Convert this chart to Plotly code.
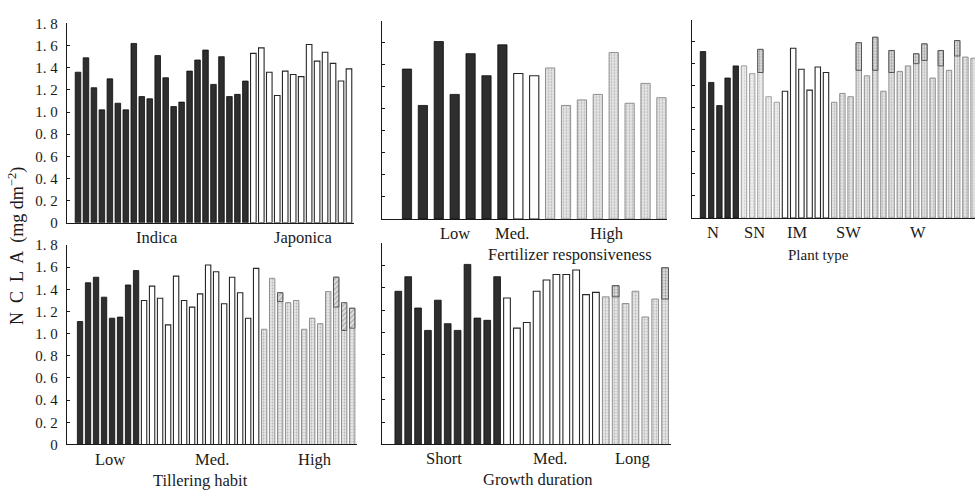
import plotly.graph_objects as go

# ---------------------------------------------------------------
# NCLA (mg dm^-2) of rice cultivars, arranged under five classifications
# ---------------------------------------------------------------
subsp_ncla = [1.36, 1.49, 1.22, 1.02, 1.30, 1.08, 1.02, 1.62, 1.14, 1.12, 1.51,
              1.31, 1.05, 1.09, 1.37, 1.47, 1.56, 1.25, 1.50, 1.14, 1.16, 1.28,
              1.53, 1.58, 1.36, 1.15, 1.37, 1.34, 1.32, 1.61, 1.46, 1.54, 1.44,
              1.28, 1.39]
subsp_class = ["Indica"] * 22 + ["Japonica"] * 13

fert_ncla = [1.36, 1.03, 1.61, 1.13, 1.50, 1.30, 1.58,
             1.32, 1.30,
             1.37, 1.03, 1.08, 1.13, 1.51, 1.05, 1.23, 1.10]
fert_class = ["Low"] * 7 + ["Med."] * 2 + ["High"] * 8

type_ncla = [1.51, 1.23, 1.02, 1.27, 1.38,
             1.38, 1.31, 1.53, 1.10, 1.05,
             1.15, 1.54, 1.35, 1.16, 1.37, 1.32,
             1.05, 1.13, 1.10, 1.59, 1.29,
             1.64, 1.15, 1.52, 1.33, 1.38, 1.49, 1.58, 1.27, 1.52, 1.34, 1.61,
             1.46, 1.45]
type_class = ["N"] * 5 + ["SN"] * 5 + ["IM"] * 6 + ["SW"] * 5 + ["W"] * 13
# level where the stippled upper part of a bar begins (bar index -> NCLA)
type_upper = {7: 1.32, 19: 1.34, 21: 1.34, 23: 1.32, 26: 1.40, 27: 1.43,
              29: 1.38, 31: 1.47}

till_ncla = [1.11, 1.46, 1.51, 1.33, 1.14, 1.15, 1.44, 1.57,
             1.30, 1.43, 1.32, 1.08, 1.52, 1.30, 1.24, 1.36, 1.62, 1.56, 1.27,
             1.51, 1.37, 1.14, 1.59,
             1.04, 1.50, 1.37, 1.28, 1.30, 1.04, 1.14, 1.09, 1.38, 1.51, 1.03,
             1.23]
till_class = ["Low"] * 8 + ["Med."] * 15 + ["High"] * 12
till_upper = {25: 1.29, 32: 1.24, 33: 1.28, 34: 1.05}

dur_ncla = [1.37, 1.50, 1.22, 1.02, 1.29, 1.08, 1.02, 1.61, 1.13, 1.11, 1.50,
            1.31, 1.04, 1.09, 1.37, 1.47, 1.52, 1.52, 1.56, 1.34, 1.36,
            1.32, 1.42, 1.26, 1.37, 1.14, 1.30, 1.58]
dur_class = ["Short"] * 11 + ["Med."] * 10 + ["Long"] * 7
dur_upper = {22: 1.32, 27: 1.30}

y_ticks = [0, 0.2, 0.4, 0.6, 0.8, 1.0, 1.2, 1.4, 1.6, 1.8]
y_ticktext = ["0", "0. 2", "0. 4", "0. 6", "0. 8", "1. 0", "1. 2", "1. 4",
              "1. 6", "1. 8"]

# ---------------------------------------------------------------
# Styling
# ---------------------------------------------------------------
W, H = 975, 496
SERIF = "Liberation Serif, Times New Roman, serif"
INK = "#1a1a1a"

FILLS = {
    "dark": dict(color="#2e2e2e", line=dict(color="#0d0d0d", width=0.8)),
    "white": dict(color="#ffffff", line=dict(color="#262626", width=1.1)),
    "gray": dict(color="#d9d9d9", line=dict(color="#8f8f8f", width=1.0),
                 pattern=dict(shape=".", fgcolor="#8a8a8a", bgcolor="#e6e6e6",
                              size=3, solidity=0.3)),
    "lightgray": dict(color="#e3e3e3", line=dict(color="#9e9e9e", width=1.0),
                      pattern=dict(shape=".", fgcolor="#a0a0a0",
                                   bgcolor="#eeeeee", size=3, solidity=0.25)),
}
UPPER = {
    ".": dict(color="#bdbdbd", line=dict(color="#555555", width=1.0),
              pattern=dict(shape=".", fgcolor="#5a5a5a", bgcolor="#dcdcdc",
                           size=3, solidity=0.35)),
    "/": dict(color="#bdbdbd", line=dict(color="#555555", width=1.0),
              pattern=dict(shape="/", fgcolor="#5a5a5a", bgcolor="#e0e0e0",
                           size=3.5, solidity=0.3)),
}


def px_x(a, b):
    return [a / W, b / W]


def px_y(bottom, top):
    return [1 - bottom / H, 1 - top / H]


panels = [
    dict(vals=subsp_ncla, cls=subsp_class,
         style={"Indica": "dark", "Japonica": "white"},
         upper={}, upper_shape=".",
         xdom=px_x(67, 354), ydom=px_y(222, 16), xr=[-1.38, 34.63], bw=0.7,
         labels=[("Indica", 9.9), ("Japonica", 28.2)], label_y=237,
         title=None, yticklabels=True),
    dict(vals=fert_ncla, cls=fert_class,
         style={"Low": "dark", "Med.": "white", "High": "gray"},
         upper={}, upper_shape=".",
         xdom=px_x(382, 667), ydom=px_y(218, 13), xr=[-1.57, 16.35], bw=0.58,
         labels=[("Low", 3.0), ("Med.", 6.6), ("High", 12.6)], label_y=233,
         title="Fertilizer responsiveness", title_x=570, title_y=255,
         title_size=16.5, yticklabels=False),
    dict(vals=type_ncla, cls=type_class,
         style={"N": "dark", "SN": "lightgray", "IM": "white", "SW": "gray",
                "W": "gray"},
         upper=type_upper, upper_shape=".",
         xdom=px_x(692, 975), ydom=px_y(217, 12), xr=[-1.34, 33.17], bw=0.66,
         labels=[("N", 1.2), ("SN", 6.3), ("IM", 11.5), ("SW", 17.7),
                 ("W", 26.2)], label_y=232,
         title="Plant type", title_x=818, title_y=255, title_size=15,
         yticklabels=False),
    dict(vals=till_ncla, cls=till_class,
         style={"Low": "dark", "Med.": "white", "High": "gray"},
         upper=till_upper, upper_shape="/",
         xdom=px_x(67, 357), ydom=px_y(451, 245), xr=[-1.63, 34.6], bw=0.67,
         labels=[("Low", 3.75), ("Med.", 16.5), ("High", 29.4)], label_y=467,
         title="Tillering habit", title_x=200, title_y=488, title_size=16.5,
         yticklabels=True),
    dict(vals=dur_ncla, cls=dur_class,
         style={"Short": "dark", "Med.": "white", "Long": "gray"},
         upper=dur_upper, upper_shape=".",
         xdom=px_x(382, 671), ydom=px_y(451, 243), xr=[-1.65, 27.6], bw=0.68,
         labels=[("Short", 4.6), ("Med.", 15.4), ("Long", 23.7)], label_y=465,
         title="Growth duration", title_x=538, title_y=487, title_size=16.5,
         yticklabels=False),
]

fig = go.Figure()
layout = dict(
    width=W, height=H, margin=dict(l=0, r=0, t=0, b=0),
    paper_bgcolor="white", plot_bgcolor="rgba(0,0,0,0)",
    barmode="overlay", showlegend=False,
    font=dict(family=SERIF, size=15, color=INK),
)
annotations = []

for k, p in enumerate(panels, start=1):
    xa = "x" if k == 1 else f"x{k}"
    ya = "y" if k == 1 else f"y{k}"
    vals, cls = p["vals"], p["cls"]
    n = len(vals)

    # full bars, one trace per class
    for c in dict.fromkeys(cls):
        idx = [i for i in range(n) if cls[i] == c]
        fig.add_trace(go.Bar(
            x=idx, y=[vals[i] for i in idx], width=p["bw"],
            marker=FILLS[p["style"][c]], xaxis=xa, yaxis=ya,
            hovertemplate=c + ": %{y:.2f}<extra></extra>"))

    # stippled / hatched upper parts of selected bars
    if p["upper"]:
        idx = sorted(p["upper"])
        fig.add_trace(go.Bar(
            x=idx, base=[p["upper"][i] for i in idx],
            y=[vals[i] - p["upper"][i] for i in idx], width=p["bw"],
            marker=UPPER[p["upper_shape"]], xaxis=xa, yaxis=ya,
            hoverinfo="skip"))

    layout["xaxis" if k == 1 else f"xaxis{k}"] = dict(
        domain=p["xdom"], anchor=ya, range=p["xr"], showgrid=False,
        zeroline=False, showline=True, linecolor=INK, linewidth=1.3,
        ticks="", showticklabels=False, fixedrange=True)
    yaxis = dict(
        domain=p["ydom"], anchor=xa, range=[0, 1.8], showgrid=False,
        zeroline=False, showline=True, linecolor=INK, linewidth=1.3,
        ticks="inside", ticklen=3, tickwidth=1, tickcolor=INK,
        tickvals=y_ticks, showticklabels=p["yticklabels"], fixedrange=True)
    if p["yticklabels"]:
        yaxis.update(ticktext=y_ticktext, ticklabelstandoff=5,
                     tickfont=dict(family=SERIF, size=15, color=INK))
    layout["yaxis" if k == 1 else f"yaxis{k}"] = yaxis

    for text, pos in p["labels"]:
        annotations.append(dict(
            text=text, x=pos, xref=xa, y=1 - p["label_y"] / H, yref="paper",
            xanchor="center", yanchor="middle", showarrow=False,
            font=dict(family=SERIF, size=16.5, color=INK)))
    if p["title"]:
        annotations.append(dict(
            text=p["title"], x=p["title_x"] / W, xref="paper",
            y=1 - p["title_y"] / H, yref="paper", xanchor="center",
            yanchor="middle", showarrow=False,
            font=dict(family=SERIF, size=p["title_size"], color=INK)))

# shared y-axis title
annotations.append(dict(
    text="N  C  L  A  (mg dm<sup>\u22122</sup>)", x=17 / W, xref="paper",
    y=1 - 246 / H, yref="paper", xanchor="center", yanchor="middle",
    textangle=-90, showarrow=False,
    font=dict(family=SERIF, size=18, color=INK)))

layout["annotations"] = annotations
fig.update_layout(**layout)
fig.write_html("out.html")
